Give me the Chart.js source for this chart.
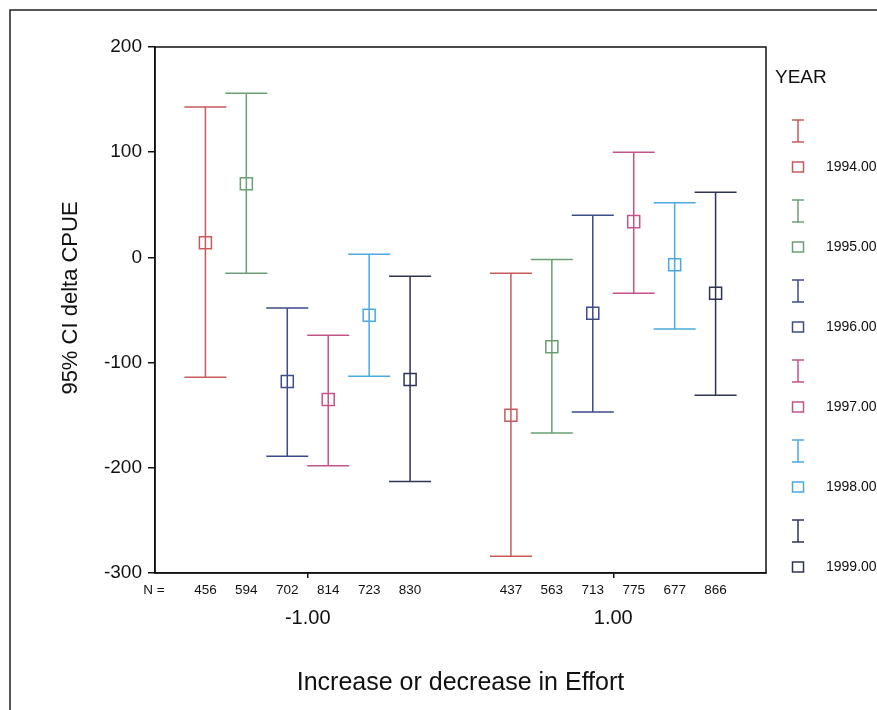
<!DOCTYPE html>
<html>
<head>
<meta charset="utf-8">
<title>95% CI delta CPUE</title>
<script src="https://cdn.jsdelivr.net/npm/chart.js@4.4.1/dist/chart.umd.min.js"></script>
<style>
  html, body { margin: 0; padding: 0; background: #fff; }
  #wrap { width: 877px; height: 710px; }
</style>
</head>
<body>
<div id="wrap"><canvas id="chart" width="877" height="710"></canvas></div>
<script>
'use strict';

// x axis groups (change in effort)
var groupValues = [-1, 1];
var groupLabels = ['-1.00', '1.00'];

// legend / series
var years = ['1994.00', '1995.00', '1996.00', '1997.00', '1998.00', '1999.00'];
var yearColors = ['#c85a5c', '#6b9f74', '#3d4b8a', '#c4538a', '#4aa9df', '#2f3454'];

// effort -1.00
var meanDown  = [14, 70, -118, -135, -55, -116];
var lowerDown = [-114, -15, -189, -198, -113, -213];
var upperDown = [143, 156, -48, -74, 3, -18];
var countDown = [456, 594, 702, 814, 723, 830];

// effort 1.00
var meanUp  = [-150, -85, -53, 34, -7, -34];
var lowerUp = [-284, -167, -147, -34, -68, -131];
var upperUp = [-15, -2, 40, 100, 52, 62];
var countUp = [437, 563, 713, 775, 677, 866];

var yTicks = [-300, -200, -100, 0, 100, 200];
var yTitle = '95% CI delta CPUE';

var FONT = 'Arial, "Liberation Sans", sans-serif';
var SLOT = 0.268;   // spacing between years inside a group, in x units

function slotX(group, i) {
    return groupValues[group] + (i - (years.length - 1) / 2) * SLOT;
}

var datasets = years.map(function (year, i) {
    return {
        label: year,
        data: [
            { x: slotX(0, i), y: meanDown[i] },
            { x: slotX(1, i), y: meanUp[i] }
        ],
        lower: [lowerDown[i], lowerUp[i]],
        upper: [upperDown[i], upperUp[i]],
        counts: [countDown[i], countUp[i]],
        borderColor: yearColors[i],
        backgroundColor: 'rgba(0,0,0,0)',
        pointStyle: 'rect',
        pointRadius: 8.5,
        pointBorderWidth: 1.5,
        showLine: false
    };
});

// vertical CI bars with caps, drawn under the mean squares
var errorBars = {
    id: 'errorBars',
    beforeDatasetsDraw: function (chart) {
        var ctx = chart.ctx;
        var y = chart.scales.y;
        ctx.save();
        chart.data.datasets.forEach(function (ds, i) {
            var meta = chart.getDatasetMeta(i);
            meta.data.forEach(function (pt, j) {
                var top = y.getPixelForValue(ds.upper[j]);
                var bot = y.getPixelForValue(ds.lower[j]);
                ctx.strokeStyle = ds.borderColor;
                ctx.lineWidth = 1.5;
                ctx.beginPath();
                ctx.moveTo(pt.x, top); ctx.lineTo(pt.x, bot);
                ctx.moveTo(pt.x - 21, top); ctx.lineTo(pt.x + 21, top);
                ctx.moveTo(pt.x - 21, bot); ctx.lineTo(pt.x + 21, bot);
                ctx.stroke();
            });
        });
        ctx.restore();
    }
};

// frame, outer border, y title, N = row and the year legend
var decorations = {
    id: 'decorations',
    beforeDraw: function (chart) {
        var ctx = chart.ctx;
        ctx.save();
        ctx.strokeStyle = '#222';
        ctx.lineWidth = 1.5;
        ctx.beginPath();
        ctx.moveTo(10, 710); ctx.lineTo(10, 10); ctx.lineTo(877, 10);
        ctx.stroke();
        ctx.restore();
    },
    afterDraw: function (chart) {
        var ctx = chart.ctx;
        var a = chart.chartArea;
        var x = chart.scales.x;
        ctx.save();

        ctx.strokeStyle = '#111';
        ctx.lineWidth = 1.5;
        ctx.strokeRect(a.left, a.top, a.right - a.left, a.bottom - a.top);

        ctx.fillStyle = '#111';
        ctx.textAlign = 'center';
        ctx.textBaseline = 'middle';

        // y axis title
        ctx.save();
        ctx.font = '22px ' + FONT;
        ctx.translate(71, 298);
        ctx.rotate(-Math.PI / 2);
        ctx.fillText(yTitle, 0, 0);
        ctx.restore();

        ctx.font = '13.5px ' + FONT;
        ctx.fillText('N =', 154, 590);
        chart.data.datasets.forEach(function (ds, i) {
            ds.data.forEach(function (p, j) {
                ctx.fillText(String(ds.counts[j]), x.getPixelForValue(p.x), 590);
            });
        });

        ctx.textAlign = 'left';
        ctx.font = '19px ' + FONT;
        ctx.fillText('YEAR', 775, 78);
        ctx.font = '14px ' + FONT;
        years.forEach(function (year, i) {
            var cy = 131 + i * 80;
            var sy = 167 + i * 80;
            ctx.strokeStyle = yearColors[i];
            ctx.lineWidth = 1.5;
            ctx.beginPath();
            ctx.moveTo(798, cy - 11); ctx.lineTo(798, cy + 11);
            ctx.moveTo(792, cy - 11); ctx.lineTo(804, cy - 11);
            ctx.moveTo(792, cy + 11); ctx.lineTo(804, cy + 11);
            ctx.stroke();
            ctx.strokeRect(792.5, sy - 5, 11, 10);
            ctx.fillStyle = '#111';
            ctx.fillText(year, 826, sy);
        });
        ctx.restore();
    }
};

var ctx = document.getElementById('chart').getContext('2d');
var chart = new Chart(ctx, {
    type: 'scatter',
    data: { datasets: datasets },
    plugins: [errorBars, decorations],
    options: {
        responsive: false,
        animation: false,
        layout: { padding: { top: 47, right: 111, left: 0, bottom: 0 } },
        plugins: {
            legend: { display: false },
            tooltip: { enabled: false }
        },
        scales: {
            x: {
                type: 'linear',
                min: -2,
                max: 2,
                afterFit: function (scale) { scale.height = 137; },
                afterBuildTicks: function (axis) {
                    axis.ticks = groupValues.map(function (v) { return { value: v }; });
                },
                ticks: {
                    padding: 28,
                    color: '#111',
                    font: { family: FONT, size: 20 },
                    maxRotation: 0,
                    callback: function (v) {
                        return groupLabels[groupValues.indexOf(v)];
                    }
                },
                grid: { drawOnChartArea: false, tickLength: 5, color: '#111', lineWidth: 1.5 },
                border: { color: '#111', width: 1.5 },
                title: {
                    display: true,
                    text: 'Increase or decrease in Effort',
                    color: '#111',
                    font: { family: FONT, size: 25 },
                    padding: { top: 0, bottom: 12 }
                }
            },
            y: {
                min: -300,
                max: 200,
                afterFit: function (scale) { scale.width = 155; },
                afterBuildTicks: function (axis) {
                    axis.ticks = yTicks.map(function (v) { return { value: v }; });
                },
                ticks: {
                    padding: 6,
                    color: '#111',
                    font: { family: FONT, size: 19 }
                },
                grid: { drawOnChartArea: false, tickLength: 7, color: '#111', lineWidth: 1.5 },
                border: { color: '#111', width: 1.5 }
            }
        }
    }
});
</script>
</body>
</html>
